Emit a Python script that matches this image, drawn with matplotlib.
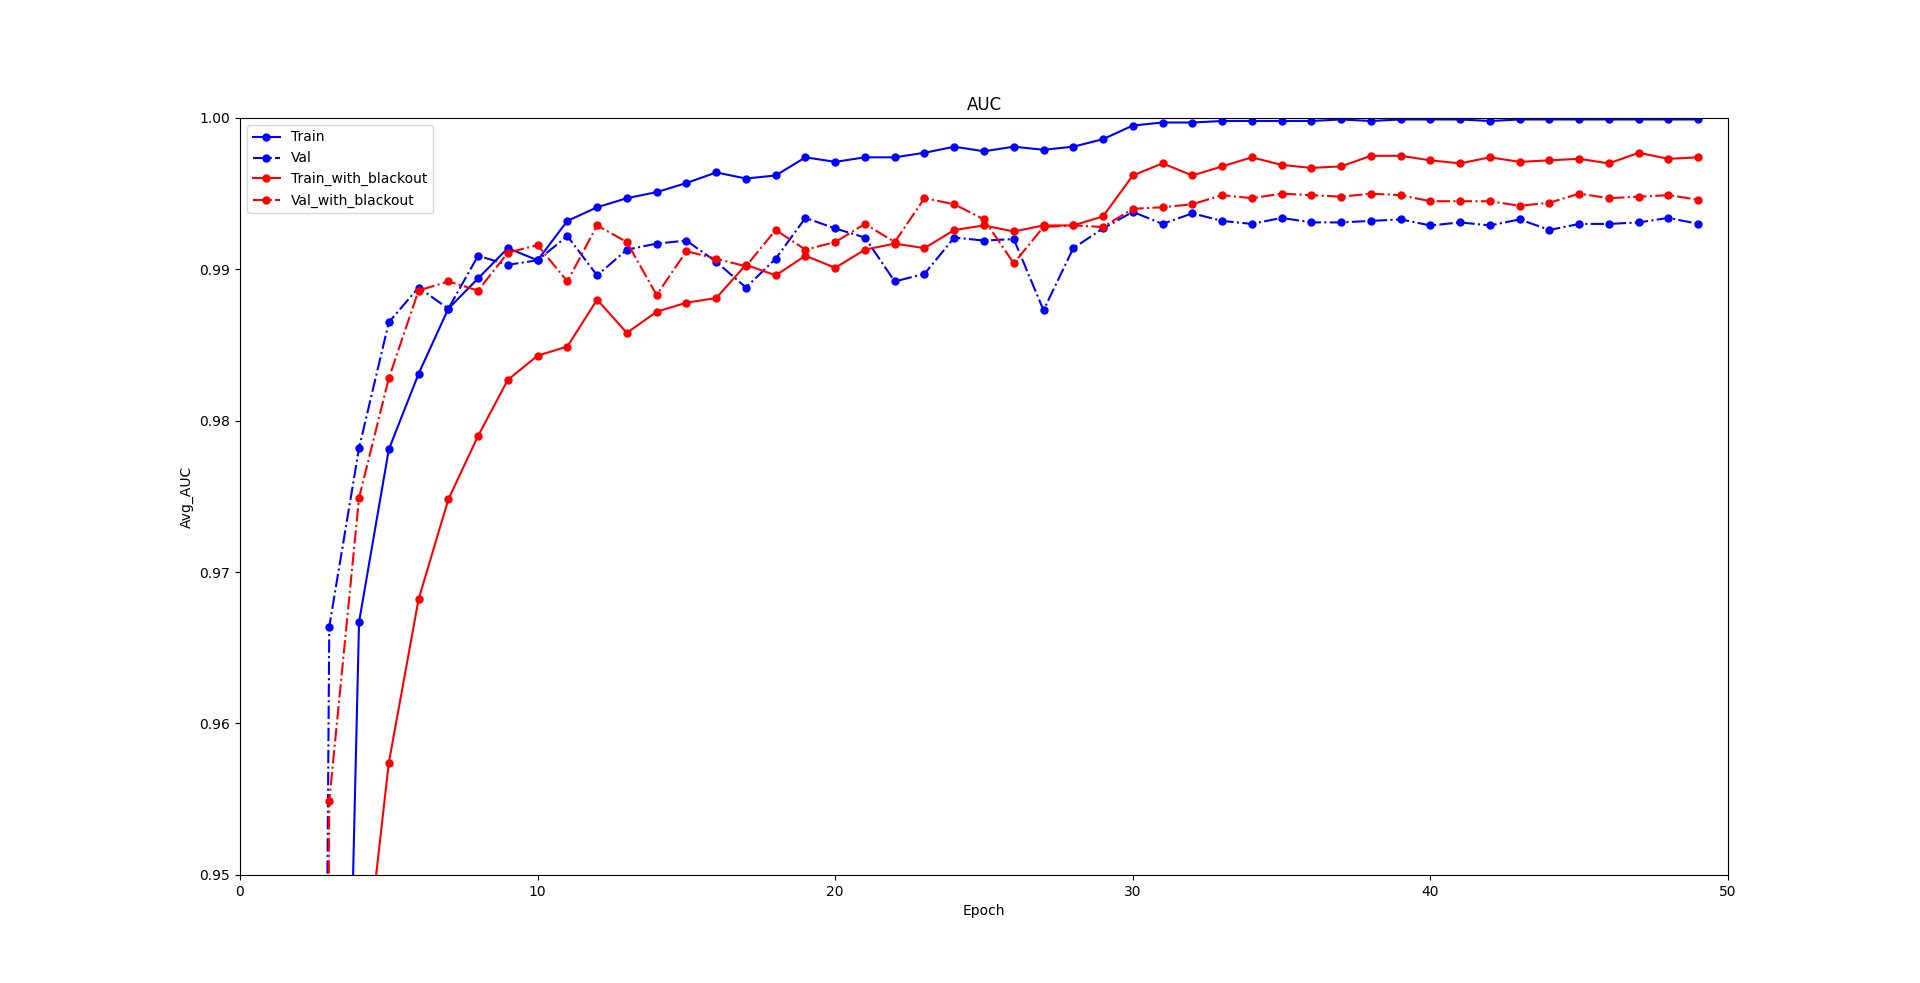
import matplotlib
matplotlib.use('Agg')
import matplotlib.pyplot as plt

epochs = list(range(50))

# values; the first few epochs lie below the y range
train = [0.60, 0.75, 0.83, 0.883, 0.9667, 0.9781, 0.9831, 0.9874, 0.9894, 0.9914,
         0.9906, 0.9932, 0.9941, 0.9947, 0.9951, 0.9957, 0.9964, 0.9960, 0.9962, 0.9974,
         0.9971, 0.9974, 0.9974, 0.9977, 0.9981, 0.9978, 0.9981, 0.9979, 0.9981, 0.9986,
         0.9995, 0.9997, 0.9997, 0.9998, 0.9998, 0.9998, 0.9998, 0.9999, 0.9998, 0.9999,
         0.9999, 0.9999, 0.9998, 0.9999, 0.9999, 0.9999, 0.9999, 0.9999, 0.9999, 0.9999]
val = [0.55, 0.62, 0.70, 0.9664, 0.9782, 0.9865, 0.9888, 0.9874, 0.9909, 0.9903,
       0.9906, 0.9922, 0.9896, 0.9913, 0.9917, 0.9919, 0.9905, 0.9888, 0.9907, 0.9934,
       0.9927, 0.9921, 0.9892, 0.9897, 0.9921, 0.9919, 0.9920, 0.9873, 0.9914, 0.9927,
       0.9938, 0.9930, 0.9937, 0.9932, 0.9930, 0.9934, 0.9931, 0.9931, 0.9932, 0.9933,
       0.9929, 0.9931, 0.9929, 0.9933, 0.9926, 0.9930, 0.9930, 0.9931, 0.9934, 0.9930]
train_blackout = [0.50, 0.60, 0.70, 0.80, 0.94, 0.9574, 0.9682, 0.9748, 0.9790, 0.9827,
                  0.9843, 0.9849, 0.9880, 0.9858, 0.9872, 0.9878, 0.9881, 0.9903, 0.9896, 0.9909,
                  0.9901, 0.9913, 0.9917, 0.9914, 0.9926, 0.9929, 0.9925, 0.9929, 0.9929, 0.9935,
                  0.9962, 0.9970, 0.9962, 0.9968, 0.9974, 0.9969, 0.9967, 0.9968, 0.9975, 0.9975,
                  0.9972, 0.9970, 0.9974, 0.9971, 0.9972, 0.9973, 0.9970, 0.9977, 0.9973, 0.9974]
val_blackout = [0.55, 0.60, 0.65, 0.9549, 0.9749, 0.9828, 0.9886, 0.9892, 0.9886, 0.9911,
                0.9916, 0.9892, 0.9929, 0.9918, 0.9883, 0.9912, 0.9907, 0.9902, 0.9926, 0.9913,
                0.9918, 0.9930, 0.9918, 0.9947, 0.9943, 0.9933, 0.9904, 0.9928, 0.9929, 0.9928,
                0.9940, 0.9941, 0.9943, 0.9949, 0.9947, 0.9950, 0.9949, 0.9948, 0.9950, 0.9949,
                0.9945, 0.9945, 0.9945, 0.9942, 0.9944, 0.9950, 0.9947, 0.9948, 0.9949, 0.9946]

fig, ax = plt.subplots(figsize=(19.2, 9.83), dpi=100)
ax.plot(epochs, train, 'b-', marker='o', markersize=5, label='Train')
ax.plot(epochs, val, 'b-.', marker='o', markersize=5, label='Val')
ax.plot(epochs, train_blackout, 'r-', marker='o', markersize=5, label='Train_with_blackout')
ax.plot(epochs, val_blackout, 'r-.', marker='o', markersize=5, label='Val_with_blackout')

ax.set_xlim(0, 50)
ax.set_ylim(0.95, 1.0)
ax.set_title('AUC')
ax.set_xlabel('Epoch')
ax.set_ylabel('Avg_AUC')
ax.legend(loc='upper left')

plt.savefig('out.png')
